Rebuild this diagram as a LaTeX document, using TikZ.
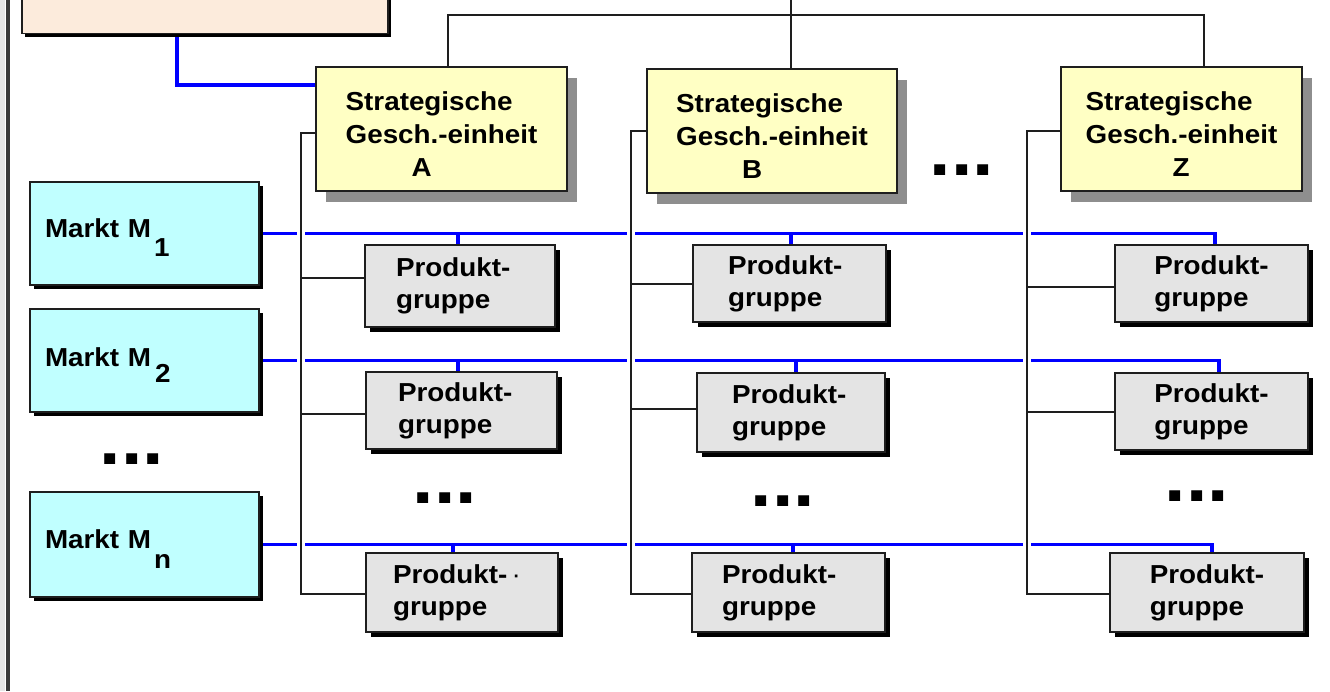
\documentclass[tikz,border=0pt]{standalone}
\usepackage{fontspec}
\setmainfont{Liberation Sans}[FakeStretch=1.07]
\usetikzlibrary{shadows}
\definecolor{peach}{HTML}{FCEBDC}
\definecolor{sgeyellow}{HTML}{FFFFC4}
\definecolor{marktcyan}{HTML}{C0FFFF}
\definecolor{pggray}{HTML}{E4E4E4}
\definecolor{shadowgray}{HTML}{8E8E8E}
\definecolor{lineblack}{HTML}{1E1E1E}
\definecolor{pureblue}{HTML}{0000FF}
\definecolor{framegray}{HTML}{E6E6E6}
\definecolor{framedark}{HTML}{3A3A3A}
\pgfdeclarelayer{bg}
\pgfsetlayers{bg,main}
\tikzset{
  boxbase/.style={draw=lineblack, line width=1.8pt, inner sep=0pt, text=black,
    font=\bfseries\fontsize{26}{33}\selectfont},
  sgebox/.style={boxbase, fill=sgeyellow, align=left,
    drop shadow={shadow xshift=10pt, shadow yshift=-11pt, fill=shadowgray, opacity=1}},
  marktbox/.style={boxbase, fill=marktcyan, align=left, inner xsep=15pt, text width=199pt,
    minimum width=229pt,
    drop shadow={shadow xshift=4pt, shadow yshift=-4pt, fill=black, opacity=1}},
  pgbox/.style={boxbase, fill=pggray, align=left,
    font=\bfseries\fontsize{26}{32}\selectfont,
    drop shadow={shadow xshift=4.5pt, shadow yshift=-4.5pt, fill=black, opacity=1}},
  topbox/.style={boxbase, fill=peach,
    drop shadow={shadow xshift=3pt, shadow yshift=-3pt, fill=black, opacity=1}},
  dotsnode/.style={font=\bfseries\fontsize{72}{72}\selectfont, anchor=base, inner sep=0pt},
  blk/.style={draw=lineblack, line width=2pt},
  blueline/.style={draw=pureblue, line width=3.5pt},
  halo/.style={preaction={draw=white, line width=8pt}},
}
\begin{document}
\begin{tikzpicture}[x=1pt, y=-1pt]
\useasboundingbox (0,0) rectangle (1330,691);
\clip (0,0) rectangle (1330,691);
\begin{pgfonlayer}{bg}
  \fill[white] (0,0) rectangle (1330,691);
\end{pgfonlayer}
% left frame
\fill[framegray] (0,0) rectangle (5,691);
\fill[framedark] (5.5,0) rectangle (10,691);

% top-left box (cut off at the top)
\node[topbox, minimum width=366pt, minimum height=93pt] (top) at (205,-13) {};

% strategic business units
\node[sgebox, minimum width=251pt, minimum height=124pt] (sA) at (441.5,129)
  {\rule{0pt}{28pt}Strategische\\Gesch.-einheit\\\hspace*{66pt}A};
\node[sgebox, minimum width=250pt, minimum height=124pt] (sB) at (772,131)
  {\rule{0pt}{28pt}Strategische\\Gesch.-einheit\\\hspace*{66pt}B};
\node[sgebox, minimum width=241pt, minimum height=124pt] (sZ) at (1181.5,129)
  {\rule{0pt}{28pt}Strategische\\Gesch.-einheit\\\hspace*{87pt}Z};

% markets
\node[marktbox, minimum height=103pt] (m1) at (144.5,233.5)
  {\rule{0pt}{27pt}Markt M\hspace{3pt}\raisebox{-19pt}{1}};
\node[marktbox, minimum height=103pt] (m2) at (144.5,360.5)
  {\rule{0pt}{27pt}Markt M\hspace{4pt}\raisebox{-16pt}{2}};
\node[marktbox, minimum height=105pt] (mn) at (144.5,544.5)
  {\rule{0pt}{27pt}Markt M\hspace{3pt}\raisebox{-20pt}{n}};

% product groups
\node[pgbox, text width=128pt, minimum width=190pt, minimum height=82pt] (pA1) at (460,286) {Produkt-\\gruppe};
\node[pgbox, text width=127pt, minimum width=191pt, minimum height=77pt] (pA2) at (461.5,410.5) {Produkt-\\gruppe};
\node[pgbox, text width=138pt, minimum width=192pt, minimum height=79pt] (pA3) at (462,592.5) {Produkt-\rlap{\,{\mdseries ·}}\\gruppe};
\node[pgbox, text width=123pt, minimum width=193pt, minimum height=77pt] (pB1) at (789.5,283.5) {Produkt-\\gruppe};
\node[pgbox, text width=118pt, minimum width=188pt, minimum height=79pt] (pB2) at (791,412.5) {Produkt-\\gruppe};
\node[pgbox, text width=133pt, minimum width=193pt, minimum height=79pt] (pB3) at (788.5,592.5) {Produkt-\\gruppe};
\node[pgbox, minimum width=193pt, minimum height=77pt] (pZ1) at (1211.5,283.5) {Produkt-\\gruppe};
\node[pgbox, minimum width=193pt, minimum height=77pt] (pZ2) at (1211.5,411.5) {Produkt-\\gruppe};
\node[pgbox, minimum width=194pt, minimum height=79pt] (pZ3) at (1207,592.5) {Produkt-\\gruppe};

% ellipses
\node[dotsnode] (d0) at (132,464) {...};
\node[dotsnode] (d1) at (962,175) {...};
\node[dotsnode] (d2) at (445,503) {...};
\node[dotsnode] (d3) at (783,506) {...};
\node[dotsnode] (d4) at (1197,501) {...};

\begin{pgfonlayer}{bg}
  % blue: top box to SGE A
  \draw[blueline] ([xshift=-28pt]top.south) |- ([yshift=-19pt]sA.north west);
  % blue market rows
  \draw[blueline] (m1.east) -| ([xshift=3.5pt]pZ1.north);
  \draw[blueline] (m2.east) -| ([xshift=7.5pt]pZ2.north);
  \draw[blueline] (mn.east) -| ([xshift=5pt]pZ3.north);
  \coordinate (dA1) at ([xshift=-2pt]pA1.north);
  \coordinate (dB1) at ([xshift=1.5pt]pB1.north);
  \coordinate (dA2) at ([xshift=-3.5pt]pA2.north);
  \coordinate (dB2) at ([xshift=5pt]pB2.north);
  \coordinate (dA3) at ([xshift=-9pt]pA3.north);
  \coordinate (dB3) at ([xshift=4.5pt]pB3.north);
  \draw[blueline] (dA1) -- (dA1 |- m1.east);
  \draw[blueline] (dB1) -- (dB1 |- m1.east);
  \draw[blueline] (dA2) -- (dA2 |- m2.east);
  \draw[blueline] (dB2) -- (dB2 |- m2.east);
  \draw[blueline] (dA3) -- (dA3 |- mn.east);
  \draw[blueline] (dB3) -- (dB3 |- mn.east);

  % black top bus
  \coordinate (busTop) at (791,15);
  \draw[blk] ([xshift=6.5pt]sA.north) |- (busTop) -| ([xshift=22.5pt]sZ.north);
  \draw[blk] ([xshift=19pt]sB.north) -- ++(0,-90);

  % black SGE branches
  \coordinate (jA) at (301,133);
  \coordinate (jB) at (631,131);
  \coordinate (jZ) at (1027,131);
  \draw[blk, halo] ([yshift=-1.5pt]pA3.west) -| (jA) -- (sA.west |- jA);
  \draw[blk] ([yshift=8pt]pA1.west) -| (jA);
  \draw[blk] ([yshift=-3.5pt]pA2.west) -| (jA);
  \draw[blk, halo] ([yshift=-1.5pt]pB3.west) -| (jB) -- (sB.west |- jB);
  \draw[blk] (pB1.west) -| (jB);
  \draw[blk] ([yshift=3.5pt]pB2.west) -| (jB);
  \draw[blk, halo] ([yshift=-1.5pt]pZ3.west) -| (jZ) -- (sZ.west |- jZ);
  \draw[blk] ([yshift=-3.5pt]pZ1.west) -| (jZ);
  \draw[blk] (pZ2.west) -| (jZ);
\end{pgfonlayer}
\end{tikzpicture}
\end{document}
